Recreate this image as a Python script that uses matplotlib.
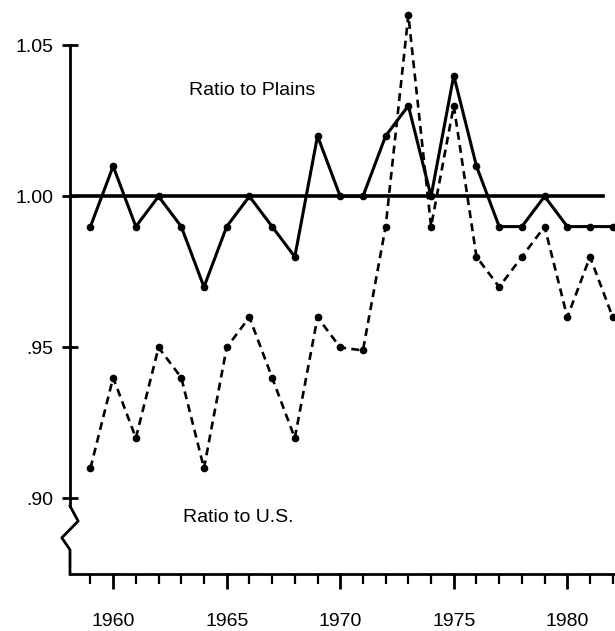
import matplotlib.pyplot as plt
from matplotlib.lines import Line2D

# Years and the two ratio series
years = list(range(1959, 1983))
ratio_plains = [0.99, 1.01, 0.99, 1.00, 0.99, 0.97, 0.99, 1.00, 0.99, 0.98,
                1.02, 1.00, 1.00, 1.02, 1.03, 1.00, 1.04, 1.01, 0.99, 0.99,
                1.00, 0.99, 0.99, 0.99]
ratio_us = [0.91, 0.94, 0.92, 0.95, 0.94, 0.91, 0.95, 0.96, 0.94, 0.92,
            0.96, 0.95, 0.949, 0.99, 1.06, 0.99, 1.03, 0.98, 0.97, 0.98,
            0.99, 0.96, 0.98, 0.96]

ytick_vals = [0.90, 0.95, 1.00, 1.05]
ytick_labels = ['.90', '.95', '1.00', '1.05']
xtick_major = [1960, 1965, 1970, 1975, 1980]

plt.rcParams['font.family'] = ['Liberation Sans', 'DejaVu Sans']

fig = plt.figure(figsize=(6.15, 6.31), dpi=100)
ax = fig.add_axes([70 / 615, 57 / 631, 545 / 615, 574 / 631])

ax.plot(years, ratio_plains, color='black', lw=2.2, marker='o', ms=4.5,
        clip_on=False, zorder=3)
ax.plot(years, ratio_us, color='black', lw=1.9, ls=(0, (3, 2)), marker='o',
        ms=4.5, clip_on=False, zorder=3)
ax.axhline(1.0, xmin=0, xmax=0.978, color='black', lw=2.6, zorder=2)

ax.set_xlim(1958.1, 1982.1)
ax.set_ylim(0.875, 1.065)

# axes styling
for side in ['top', 'right']:
    ax.spines[side].set_visible(False)
ax.spines['bottom'].set_linewidth(2)
ax.spines['left'].set_linewidth(2)
ax.spines['left'].set_bounds(0.8975, 1.05)

# axis break on the y axis
tr = ax.get_yaxis_transform()
brk = Line2D([0, 0.015, -0.015, 0, 0], [0.8975, 0.8925, 0.887, 0.883, 0.875],
             transform=tr, color='black', lw=2, clip_on=False)
ax.add_line(brk)

ax.set_yticks(ytick_vals)
ax.set_yticklabels(ytick_labels)
ax.tick_params(axis='y', direction='inout', length=12, width=2, pad=6,
               labelsize=14)

ax.set_xticks(xtick_major)
ax.set_xticks(years, minor=True)
ax.tick_params(axis='x', which='major', direction='out', length=11, width=2,
               pad=17, labelsize=14)
ax.tick_params(axis='x', which='minor', direction='out', length=7, width=1.6)

ax.text(1966.1, 1.035, 'Ratio to Plains', ha='center', va='center', fontsize=14)
ax.text(1965.5, 0.8937, 'Ratio to U.S.', ha='center', va='center', fontsize=14)

fig.savefig('out.png', dpi=100)
